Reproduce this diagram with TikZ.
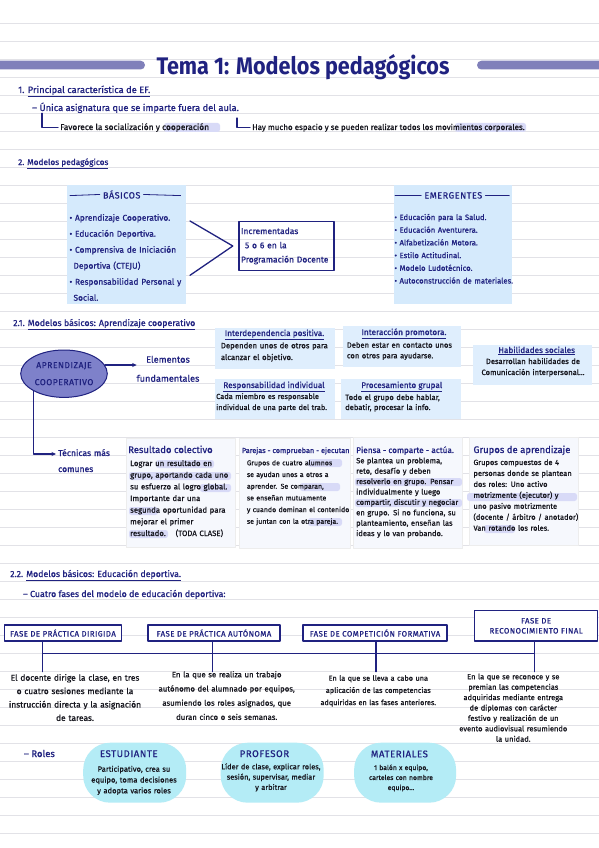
\documentclass[tikz,border=0pt]{standalone}
\usepackage{fontspec}
\usepackage{graphicx}
\setmainfont{Fira Sans}[UprightFeatures={FakeBold=0.8}]
\newfontfamily\capsfont{Fira Sans}[LetterSpace=6, FakeBold=0.8]
\usetikzlibrary{arrows.meta,shapes.geometric}

\definecolor{ink}{RGB}{32,34,128}
\definecolor{graphite}{RGB}{22,22,30}
\definecolor{ruleline}{RGB}{226,226,231}
\definecolor{titlebar}{RGB}{128,128,186}
\definecolor{modelfill}{RGB}{213,234,252}
\definecolor{elemfill}{RGB}{223,238,253}
\definecolor{cardfill}{RGB}{246,248,253}
\definecolor{ovalfill}{RGB}{126,129,202}
\definecolor{rolefill}{RGB}{180,236,246}
\definecolor{marker}{RGB}{216,218,247}

\newcommand{\fsz}[2]{\fontsize{#1}{#2}\selectfont}

\begin{document}
\begin{tikzpicture}[x=1pt, y=-1pt, line cap=round, line join=round,
  every node/.style={inner sep=0pt},
  note/.style={text=ink, anchor=base west, font=\fsz{8.6}{10}},
  pen/.style={text=graphite, anchor=base west, font=\fsz{7.8}{9}},
  link/.style={draw=ink, line width=1.1pt},
  arrowlink/.style={link, -{Stealth[length=4.5pt, width=4pt]}},
  hl/.style={fill=marker, rounded corners=2.5pt},
  modelbox/.style={fill=modelfill, anchor=north west},
  elembox/.style={fill=elemfill, anchor=north west},
  cardbox/.style={fill=cardfill, draw=black!7, anchor=north west},
  elemtitle/.style={text=ink, anchor=base, font=\fsz{8.2}{9}},
  capstitle/.style={text=ink, anchor=base, font=\capsfont\fsz{9}{10}},
  fasebox/.style={draw=ink, line width=1.2pt, fill=white, align=center, text=ink, font=\capsfont\fsz{7.8}{9}},
  rolebox/.style={fill=rolefill, rounded corners=27pt, minimum width=103, minimum height=60}
]
\useasboundingbox (0,0) rectangle (599,848);
\fill[white] (0,0) rectangle (599,848);
\foreach \ry in {23.3,41.3,...,834} \draw[ruleline, line width=1.1pt] (0,\ry) -- (599,\ry);

\fill[titlebar, rounded corners=4.4pt] (-10,60.7) rectangle (145,69.5);
\fill[titlebar, rounded corners=4.4pt] (477,60.7) rectangle (610,69.5);
\node[text=ink, anchor=base, font=\fsz{24}{26}\bfseries] (title) at (303,75) {\scalebox{0.9}[1]{Tema 1: Modelos pedagógicos}};

\node[note, font=\fsz{9.3}{10}] (s1) at (18,93) {1. \underline{Principal característica de EF.}};
\node[note, font=\fsz{9.3}{10}] (s1a) at (32,111) {– Única asignatura que se imparte fuera del aula.};
\fill[hl] (164,123) rectangle (220,132);
\fill[hl] (455,123) rectangle (526,132);
\node[pen, font=\fsz{8.4}{9}] (fav) at (60,130) {Favorece la socialización y cooperación};
\node[pen, font=\fsz{8}{9}] (hay) at (252,130) {Hay mucho espacio y se pueden realizar todos los movimientos corporales.};
\draw[link] ([xshift=10pt]s1a.south west) |- ([xshift=-2pt]fav.west);
\draw[link] (237,118) |- ([xshift=-2pt]hay.west);

\node[note, font=\fsz{8.3}{10}] (s2) at (18,165) {2. \underline{Modelos pedagógicos}};
\node[modelbox, minimum width=119, minimum height=119] (bas) at (67,185) {};
\node[capstitle] (bast) at (121.7,198.5) {BÁSICOS};
\draw[link, line width=0.8pt] ([xshift=-3pt]bast.west) -- (70,195.6);
\draw[link, line width=0.8pt] ([xshift=3pt]bast.east) -- (180.7,195.6);
\node[note, text width=118, align=left, font=\fsz{8.4}{16}] (basx) at (69.3,220.7) {• Aprendizaje Cooperativo.\\ • Educación Deportiva.\\ • Comprensiva de Iniciación\\ \hspace*{4pt}Deportiva (CTEJU)\\ • Responsabilidad Personal y\\ \hspace*{4pt}Social.};
\node[draw=ink, line width=1.3pt, anchor=north west, minimum width=95, minimum height=49.3, text width=91, align=left, text=ink, font=\fsz{8.5}{14.2}] (incr) at (238.3,220.7) {Incrementadas\\ \hspace*{4pt}5 o 6 en la\\ Programación Docente};
\draw[link, line width=1.3pt] (190,221) -- ([xshift=-5.5pt]incr.west) -- (190,275.3);
\node[modelbox, minimum width=118.4, minimum height=118.3] (eme) at (393.3,185) {};
\node[capstitle] (emet) at (453.3,198.5) {EMERGENTES};
\draw[link, line width=0.8pt] ([xshift=-3pt]emet.west) -- (395,195.6);
\draw[link, line width=0.8pt] ([xshift=3pt]emet.east) -- (509.3,195.6);
\node[note, text width=125, align=left, font=\fsz{7.7}{12.7}] (emex) at (394.3,220) {• Educación para la Salud.\\ • Educación Aventurera.\\ • Alfabetización Motora.\\ • Estilo Actitudinal.\\ • Modelo Ludotécnico.\\ • Autoconstrucción de materiales.};

\node[note, font=\fsz{8.8}{10}] (s21) at (13,326) {2.1. \underline{Modelos básicos: Aprendizaje cooperativo}};
\node[ellipse, draw=ink, line width=1pt, fill=ovalfill, minimum width=86.6, minimum height=47.4, align=center, text=ink, font=\capsfont\fsz{8.6}{17}] (apr) at (64,373.7) {APRENDIZAJE\\ COOPERATIVO};
\node[note, text width=80, align=center, anchor=base, font=\fsz{9.2}{19}] (elem) at (168,362.7) {Elementos\\ fundamentales};
\draw[arrowlink] (apr.12) -- (apr.12 -| 136.7,0);
\node[note, text width=70, align=left, font=\fsz{8.6}{16}] (tec) at (58,456) {Técnicas más\\ comunes};
\draw[arrowlink] (apr.210) |- ([xshift=-2pt,yshift=2pt]tec.base west);

\node[elembox, minimum width=119.3, minimum height=40.6] (inter) at (215,327.7) {};
\node[elemtitle] (intert) at (274.5,336) {\underline{Interdependencia positiva.}};
\node[pen, text width=125, align=left, font=\fsz{7.8}{11.7}] (interx) at (220.7,348.3) {Dependen unos de otros para\\ alcanzar el objetivo.};
\node[elembox, minimum width=118, minimum height=40.7] (prom) at (342.7,326) {};
\node[elemtitle] (promt) at (404,335) {\underline{Interacción promotora.}};
\node[pen, text width=125, align=left, font=\fsz{7.6}{10.6}] (promx) at (346.7,347.7) {Deben estar en contacto unos\\ con otros para ayudarse.};
\node[elembox, minimum width=119, minimum height=40.7] (hab) at (472.7,344.3) {};
\node[elemtitle] (habt) at (536.7,353) {\underline{Habilidades sociales}};
\node[pen, anchor=base, text width=125, align=center, font=\fsz{7.6}{11}] (habx) at (533,364) {Desarrollan habilidades de\\ Comunicación interpersonal...};
\node[elembox, minimum width=119.3, minimum height=39.3] (resp) at (215,379) {};
\node[elemtitle] (respt) at (274,388) {\underline{Responsabilidad individual}};
\node[pen, text width=125, align=left, font=\fsz{7.4}{11}] (respx) at (216,399) {Cada miembro es responsable\\ individual de una parte del trab.};
\node[elembox, minimum width=119.7, minimum height=40] (proc) at (341,378.3) {};
\node[elemtitle] (proct) at (401.7,388) {\underline{Procesamiento grupal}};
\node[pen, text width=125, align=left, font=\fsz{7.6}{10}] (procx) at (345,400) {Todo el grupo debe hablar,\\ debatir, procesar la info.};

\node[cardbox, minimum width=109, minimum height=108.4] (res) at (126,438.3) {};
\node[cardbox, minimum width=110.7, minimum height=109.7] (par) at (239.3,438.3) {};
\node[cardbox, minimum width=109.6, minimum height=111] (pie) at (352.7,437.3) {};
\node[cardbox, minimum width=109, minimum height=107.7] (gru) at (469.3,437.3) {};
\fill[hl] (156,460) rectangle (214,468);
\fill[hl] (129,472) rectangle (231,480);
\fill[hl] (200,484) rectangle (231,492);
\fill[hl] (129,507) rectangle (158,515);
\fill[hl] (129,530) rectangle (168,538);
\fill[hl] (308,459) rectangle (342,467);
\fill[hl] (300,483) rectangle (340,491);
\fill[hl] (308,518) rectangle (342,526);
\fill[hl] (355,478) rectangle (462,486);
\fill[hl] (355,499) rectangle (462,507);
\fill[hl] (467,493) rectangle (577,501);
\fill[hl] (484,525) rectangle (515,533);
\node[note, font=\fsz{9.5}{10}] (rest) at (128,453) {Resultado colectivo};
\node[pen, text width=112, align=left, font=\fsz{7.8}{11.67}] (resx) at (130,466) {Lograr un resultado en\\ grupo, aportando cada uno\\ su esfuerzo al logro global.\\ Importante dar una\\ segunda oportunidad para\\ mejorar el primer\\ resultado.\hspace{10pt}(TODA CLASE)};
\node[note, font=\fsz{7.3}{9}] (part) at (241.7,453) {Parejas - comprueban - ejecutan};
\node[pen, text width=112, align=left, font=\fsz{7}{11.7}] (parx) at (246.7,465.3) {Grupos de cuatro alumnos\\ se ayudan unos a otros a\\ aprender. Se comparan,\\ se enseñan mutuamente\\ y cuando dominan el contenido\\ se juntan con la otra pareja.};
\node[note, font=\fsz{8.2}{9}] (piet) at (356,453) {Piensa - comparte - actúa.};
\node[pen, text width=112, align=left, font=\fsz{7.6}{10.4}] (piex) at (356,463.3) {Se plantea un problema,\\ reto, desafío y deben\\ resolverlo en grupo. Pensar\\ individualmente y luego\\ compartir, discutir y negociar\\ en grupo. Si no funciona, su\\ planteamiento, enseñan las\\ ideas y lo van probando.};
\node[note, font=\fsz{9.5}{10}] (grut) at (473.3,453) {Grupos de aprendizaje};
\node[pen, text width=112, align=left, font=\fsz{7.5}{10.95}] (grux) at (473.3,465) {Grupos compuestos de 4\\ personas donde se plantean\\ dos roles: Uno activo\\ motrizmente (ejecutor) y\\ uno pasivo motrizmente\\ (docente / árbitro / anotador)\\ Van rotando los roles.};

\node[note, font=\fsz{8.8}{10}] (s22) at (10,577) {2.2. \underline{Modelos básicos: Educación deportiva.}};
\node[note, font=\fsz{8.8}{10}] (s22a) at (23,597) {– Cuatro fases del modelo de educación deportiva:};
\node[fasebox, minimum width=116.8, minimum height=16] (fase1) at (63,633) {FASE DE PRÁCTICA DIRIGIDA};
\node[fasebox, minimum width=132, minimum height=16] (fase2) at (214,633) {FASE DE PRÁCTICA AUTÓNOMA};
\node[fasebox, minimum width=144, minimum height=16] (fase3) at (375,633) {FASE DE COMPETICIÓN FORMATIVA};
\node[fasebox, minimum width=123.2, minimum height=30.3, font=\capsfont\fsz{7.8}{10}] (fase4) at (536.1,625.8) {FASE DE\\ RECONOCIMIENTO FINAL};
\coordinate (d1) at (42.7,671.7);
\coordinate (d2) at (212.7,671.7);
\coordinate (d3) at (376,671.7);
\coordinate (d4) at (534.3,671.7);
\coordinate (bus) at (0,653.3);
\draw[link] (fase1.south -| d1) -- (d1);
\draw[link] (fase2.south -| d2) -- (d2);
\draw[link] (fase3.south -| d3) -- (d3);
\draw[link] (fase4.south -| d4) -- (d4);
\draw[link] (d1 |- bus) -- (d4 |- bus);
\node[pen, anchor=base, text width=150, align=center, font=\fsz{8.4}{13.4}] (desc1) at (75,680.7) {El docente dirige la clase, en tres\\ o cuatro sesiones mediante la\\ instrucción directa y la asignación\\ de tareas.};
\node[pen, anchor=base, text width=155, align=center, font=\fsz{7.8}{14.2}] (desc2) at (226.7,677.3) {En la que se realiza un trabajo\\ autónomo del alumnado por equipos,\\ asumiendo los roles asignados, que\\ duran cinco o seis semanas.};
\node[pen, anchor=base, text width=135, align=center, font=\fsz{7.3}{12.2}] (desc3) at (378.3,680.7) {En la que se lleva a cabo una\\ aplicación de las competencias\\ adquiridas en las fases anteriores.};
\node[pen, anchor=base, text width=115, align=center, font=\fsz{7.5}{10.4}] (desc4) at (513.3,679.3) {En la que se reconoce y se\\ premian las competencias\\ adquiridas mediante entrega\\ de diplomas con carácter\\ festivo y realización de un\\ evento audiovisual resumiendo\\ la unidad.};

\node[note, font=\fsz{9.5}{10}] (roles) at (23.7,757) {– Roles};
\node[rolebox] (est) at (134.7,772.7) {};
\node[rolebox] (prof) at (272.2,772.7) {};
\node[rolebox, minimum width=102] (mat) at (405.1,772.7) {};
\node[capstitle, font=\capsfont\fsz{9.6}{10}] (estt) at (128.8,757) {ESTUDIANTE};
\node[capstitle, font=\capsfont\fsz{9.6}{10}] (proft) at (264.4,757) {PROFESOR};
\node[capstitle, font=\capsfont\fsz{9.6}{10}] (matt) at (399.4,757.3) {MATERIALES};
\node[pen, anchor=base, text width=104, align=center, font=\fsz{7.6}{10.8}] (estx) at (134,771.7) {Participativo, crea su\\ equipo, toma decisiones\\ y adopta varios roles};
\node[pen, anchor=base, text width=108, align=center, font=\fsz{7.4}{10.3}] (profx) at (271,769.3) {Líder de clase, explicar roles,\\ sesión, supervisar, mediar\\ y arbitrar};
\node[pen, anchor=base, text width=100, align=center, font=\fsz{6.8}{10}] (matx) at (401,770) {1 balón x equipo,\\ carteles con nombre\\ equipo...};
\end{tikzpicture}
\end{document}
